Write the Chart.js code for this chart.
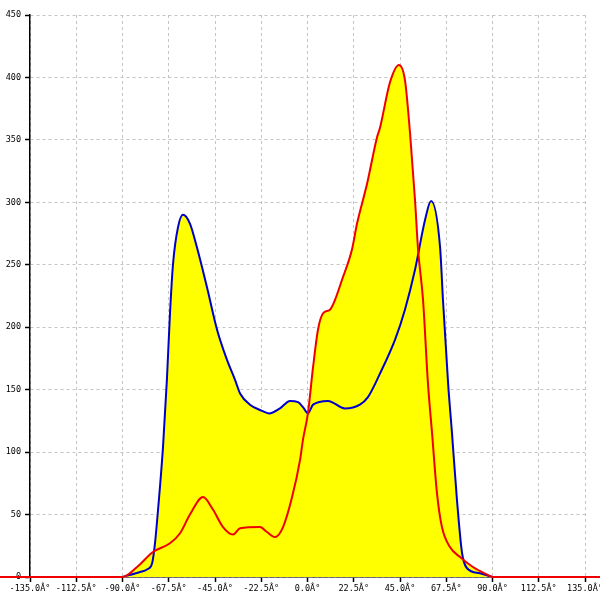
<!DOCTYPE html>
<html>
<head>
<meta charset="utf-8">
<script src="https://cdn.jsdelivr.net/npm/chart.js@4.4.1/dist/chart.umd.min.js"></script>
<style>
  html, body { margin: 0; padding: 0; background: #fff; }
  #wrap { width: 600px; height: 600px; }
</style>
</head>
<body>
<div id="wrap"><canvas id="myChart1" width="600" height="600"></canvas></div>
<script>
// angles in degrees, counts
let blueAngles = [-90, -81.5, -78.1, -75.6, -74.2, -72.7, -70.3, -68.4, -66.9, -65.4, -63.0, -60.6, -57.2, -53.8, -48.9, -44.0, -39.2, -35.3, -32.8, -28.0, -22.1, -18.7, -13.4, -8.5, -4.6, -2.2, 0.2, 2.7, 10.0, 18.2, 25.5, 29.4, 35.3, 42.6, 47.4, 52.3, 57.2, 60.1, 64.5, 65.9, 68.4, 70.3, 72.7, 75.2, 77.6, 83.9, 90];
let blueValues = [0, 4, 6, 11, 27, 54, 104, 158, 211, 251, 280, 290, 283, 264, 232, 198, 174, 158, 147, 138, 133, 131, 135, 141, 140, 136, 131, 138, 141, 135, 138, 144, 163, 190, 214, 246, 286, 301, 264, 222, 155, 115, 62, 19, 7, 3, 0];

let redAngles = [-150, -90, -82.9, -75.2, -66.9, -62.0, -57.2, -50.8, -46.0, -41.1, -36.2, -32.8, -23.1, -19.7, -15.8, -11.9, -7.5, -3.6, -2.2, 0.2, 2.7, 5.1, 7.5, 10.9, 13.4, 16.8, 21.6, 24.1, 29.0, 33.8, 35.3, 40.1, 44.5, 47.4, 49.9, 52.3, 53.8, 56.2, 58.6, 60.6, 63.0, 65.4, 69.3, 74.2, 80.5, 87.3, 90, 150];
let redValues = [0, 0, 8, 20, 27, 35, 50, 64, 54, 40, 34, 39, 40, 36, 32, 40, 64, 94, 110, 131, 168, 198, 211, 214, 222, 238, 262, 283, 315, 352, 360, 396, 410, 398, 355, 302, 262, 222, 155, 115, 67, 40, 24, 16, 8, 2, 0, 0];

let xMin = -135, xMax = 135, xStep = 22.5;
let yMin = 0, yMax = 450, yStep = 50;

function pts(xs, ys) {
    let out = [];
    for (var i = 0; i < xs.length; i++) {
        out.push({ x: xs[i], y: ys[i] });
    }
    return out;
}

let tickFont = { family: "'DejaVu Sans Mono', monospace", size: 8.5 };

let ctx = document.getElementById('myChart1').getContext('2d');
let myChart1 = new Chart(ctx, {
    type: 'line',
    data: {
        datasets: [{
            label: 'red',
            data: pts(redAngles, redValues),
            borderColor: '#ee0000',
            borderWidth: 2,
            backgroundColor: '#ffff00',
            fill: 'origin',
            pointRadius: 0,
            cubicInterpolationMode: 'monotone',
            clip: false
        }, {
            label: 'blue',
            data: pts(blueAngles, blueValues),
            borderColor: '#0000cc',
            borderWidth: 2,
            backgroundColor: '#ffff00',
            fill: 'origin',
            pointRadius: 0,
            cubicInterpolationMode: 'monotone'
        }]
    },
    options: {
        responsive: false,
        animation: false,
        layout: { padding: { top: 15, right: 15, left: 0, bottom: 0 } },
        plugins: {
            legend: { display: false },
            tooltip: { enabled: false },
            filler: { drawTime: 'beforeDatasetsDraw' }
        },
        scales: {
            x: {
                type: 'linear',
                min: xMin,
                max: xMax,
                ticks: {
                    stepSize: xStep,
                    autoSkip: false,
                    maxRotation: 0,
                    color: '#000',
                    font: tickFont,
                    padding: 2,
                    callback: (v) => v.toFixed(1) + 'Â°'
                },
                grid: { color: '#c4c4c4', tickColor: '#000', tickWidth: 1.5, tickLength: 5, tickBorderDash: [] },
                border: { color: '#000', width: 1.5, dash: [3, 3] },
                afterFit: (scale) => {
                    scale.height = 23;
                    scale.paddingLeft = 0;
                    scale.paddingRight = 0;
                }
            },
            y: {
                min: yMin,
                max: yMax,
                ticks: {
                    stepSize: yStep,
                    color: '#000',
                    font: tickFont,
                    padding: 4
                },
                grid: { color: '#c4c4c4', tickColor: '#000', tickWidth: 1.5, tickLength: 5, tickBorderDash: [] },
                border: { color: '#000', width: 1.5, dash: [3, 3] },
                afterFit: (scale) => {
                    scale.width = 30;
                }
            }
        }
    }
});
</script>
</body>
</html>
